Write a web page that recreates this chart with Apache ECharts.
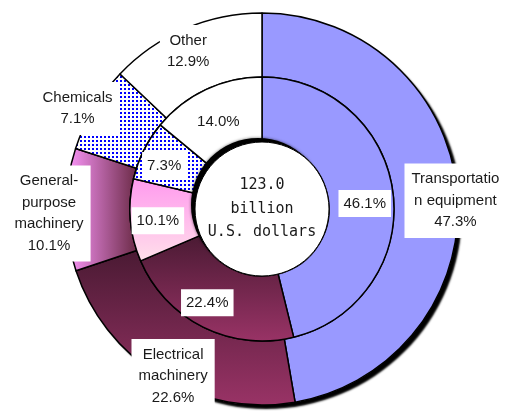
<!DOCTYPE html>
<html>
<head>
<meta charset="utf-8">
<script src="https://cdn.jsdelivr.net/npm/echarts@6/dist/echarts.min.js"></script>
<style>
  html, body { margin: 0; padding: 0; background: #fff; }
  #chart { width: 513px; height: 415px; }
</style>
</head>
<body>
<div id="chart"></div>
<script>
// chart data
const categories = ['Transportation equipment', 'Electrical machinery', 'General-purpose machinery', 'Chemicals', 'Other'];
const outerLabels = ['Transportatio\nn equipment', 'Electrical\nmachinery', 'General-\npurpose\nmachinery', 'Chemicals', 'Other'];
const outerShare = [47.3, 22.6, 10.1, 7.1, 12.9];
const innerShare = [46.1, 22.4, 10.1, 7.3, 14.0];
const totalLines = ['123.0', 'billion', 'U.S. dollars'];

const CENTER = [262, 209];
const FONT = '"Liberation Sans", Arial, sans-serif';

// dotted fill for chemicals
function dots() {
    const c = document.createElement('canvas');
    c.width = 4; c.height = 4;
    const g = c.getContext('2d');
    g.fillStyle = '#fff';
    g.fillRect(0, 0, 4, 4);
    g.fillStyle = '#0000ff';
    g.fillRect(0, 0, 2, 2);
    return { image: c, repeat: 'repeat' };
}

function vgrad(top, bottom) {
    return { type: 'linear', x: 0, y: 0, x2: 0, y2: 1,
        colorStops: [{ offset: 0, color: top }, { offset: 1, color: bottom }] };
}
function hgrad(left, right) {
    return { type: 'linear', x: 0, y: 0, x2: 1, y2: 0,
        colorStops: [{ offset: 0, color: left }, { offset: 1, color: right }] };
}

const outerFill = ['#9999ff', vgrad('#4a1a33', '#993366'), hgrad('#ff99ff', '#6a2a45'), dots(), '#ffffff'];
const innerFill = ['#9999ff', vgrad('#4a1a33', '#993366'), vgrad('#ff99ee', '#ffe0ea'), dots(), '#ffffff'];

// label nudges from the default inside position
const outerNudge = [[27, 6], [-3, 24], [-46, 4], [-41, -15], [-8, -4]];
const innerNudge = [[1, 7], [-9, 2], [-2, 3], [-6, 2], [0, 6]];

const chart = echarts.init(document.getElementById('chart'));

const ringStyle = { borderColor: '#000', borderWidth: 1.5 };

chart.setOption({
    animation: false,
    series: [
        {
            // backing disc that casts the ring shadow
            type: 'pie', silent: true, center: CENTER, radius: [0, 196],
            label: { show: false }, labelLine: { show: false },
            itemStyle: { color: '#fff', shadowColor: '#000', shadowBlur: 2, shadowOffsetX: 4, shadowOffsetY: 4 },
            data: [{ value: 1 }]
        },
        {
            name: 'outer', type: 'pie', silent: true, center: CENTER, radius: [132, 196],
            startAngle: 90, avoidLabelOverlap: false,
            itemStyle: ringStyle,
            label: {
                show: true, position: 'inside', color: '#1a1a1a', fontFamily: FONT, fontSize: 15,
                lineHeight: 21.5, backgroundColor: '#fff', padding: [5, 7],
                formatter: p => outerLabels[p.dataIndex] + '\n' + p.value.toFixed(1) + '%'
            },
            labelLayout: p => ({ dx: outerNudge[p.dataIndex][0], dy: outerNudge[p.dataIndex][1] }),
            data: categories.map((c, i) => ({ name: c, value: outerShare[i], itemStyle: { color: outerFill[i] } }))
        },
        {
            name: 'inner', type: 'pie', silent: true, center: CENTER, radius: [67, 132],
            startAngle: 90, avoidLabelOverlap: false,
            itemStyle: ringStyle,
            label: {
                show: true, position: 'inside', color: '#1a1a1a', fontFamily: FONT, fontSize: 15,
                lineHeight: 17, backgroundColor: '#fff', padding: [5, 5],
                formatter: p => p.value.toFixed(1) + '%'
            },
            labelLayout: p => ({ dx: innerNudge[p.dataIndex][0], dy: innerNudge[p.dataIndex][1] }),
            data: categories.map((c, i) => ({ name: c, value: innerShare[i], itemStyle: { color: innerFill[i] } }))
        },
        {
            // dark crescent up-left of the centre disc
            type: 'pie', silent: true, center: [CENTER[0] - 4, CENTER[1] - 4], radius: [0, 67],
            label: { show: false }, labelLine: { show: false },
            itemStyle: { color: '#000', shadowColor: 'rgba(0,0,0,0.6)', shadowBlur: 3 },
            data: [{ value: 1 }]
        },
        {
            name: 'total', type: 'pie', silent: true, center: CENTER, radius: [0, 67],
            labelLine: { show: false },
            itemStyle: { color: '#fff', borderColor: '#000', borderWidth: 1 },
            label: {
                show: true, position: 'center', color: '#1a1a1a',
                fontFamily: '"DejaVu Sans Mono", monospace', fontSize: 15, lineHeight: 23.5,
                formatter: totalLines.join('\n')
            },
            data: [{ value: 1 }]
        }
    ]
});
window.addEventListener('resize', function () {
    chart.resize();
});
</script>
</body>
</html>
